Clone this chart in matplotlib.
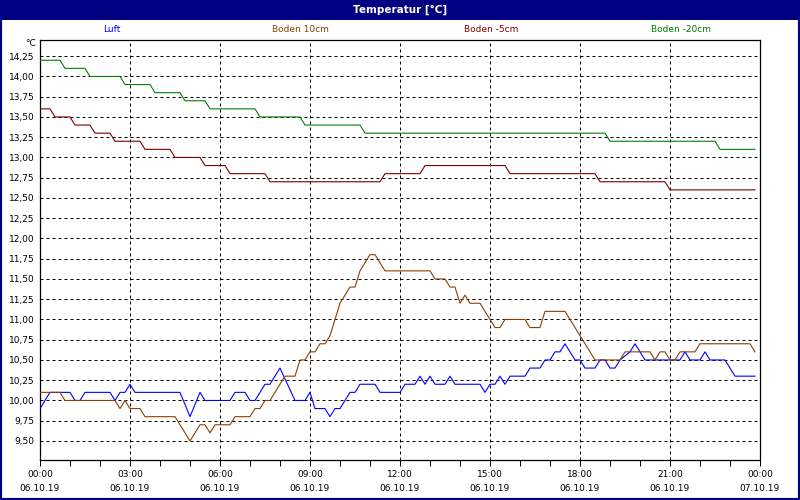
import matplotlib
matplotlib.use("Agg")
import matplotlib.pyplot as plt
from matplotlib.patches import Rectangle
from matplotlib.ticker import MultipleLocator, FixedLocator

# Messwerte als Stützpunkte (Minuten ab 06.10.19 00:00, Wert in °C)
luft_t = [0, 20, 60, 70, 80, 90, 140, 150, 160, 170, 180, 190, 280, 300, 320, 330,
          380, 390, 410, 420, 430, 450, 460, 480, 510, 530, 540, 550, 570, 580, 590,
          600, 620, 630, 640, 670, 680, 720, 730, 750, 760, 770, 780, 790, 810, 820,
          830, 880, 890, 900, 910, 920, 930, 940, 970, 980, 1000, 1010, 1020, 1030,
          1040, 1050, 1060, 1070, 1080, 1090, 1110, 1120, 1130, 1140, 1150, 1160,
          1180, 1190, 1200, 1210, 1280, 1290, 1300, 1320, 1330, 1340, 1370, 1390, 1430]
luft_v = [9.9, 10.1, 10.1, 10.0, 10.0, 10.1, 10.1, 10.0, 10.1, 10.1, 10.2, 10.1, 10.1,
          9.8, 10.1, 10.0, 10.0, 10.1, 10.1, 10.0, 10.0, 10.2, 10.2, 10.4, 10.0, 10.0,
          10.1, 9.9, 9.9, 9.8, 9.9, 9.9, 10.1, 10.1, 10.2, 10.2, 10.1, 10.1, 10.2, 10.2,
          10.3, 10.2, 10.3, 10.2, 10.2, 10.3, 10.2, 10.2, 10.1, 10.2, 10.2, 10.3, 10.2,
          10.3, 10.3, 10.4, 10.4, 10.5, 10.5, 10.6, 10.6, 10.7, 10.6, 10.5, 10.5, 10.4,
          10.4, 10.5, 10.5, 10.4, 10.4, 10.5, 10.6, 10.7, 10.6, 10.5, 10.5, 10.6, 10.5,
          10.5, 10.6, 10.5, 10.5, 10.3, 10.3]

boden10_t = [0, 40, 50, 150, 160, 170, 180, 200, 210, 270, 300, 320, 330, 340, 350,
             380, 390, 420, 430, 440, 450, 460, 490, 510, 520, 530, 540, 550, 560, 570,
             580, 590, 600, 610, 620, 630, 640, 650, 660, 670, 680, 690, 780, 790, 810,
             820, 830, 840, 850, 860, 880, 890, 900, 910, 920, 930, 970, 980, 1000,
             1010, 1050, 1110, 1160, 1170, 1220, 1230, 1240, 1250, 1260, 1270, 1280,
             1310, 1320, 1420, 1430]
boden10_v = [10.1, 10.1, 10.0, 10.0, 9.9, 10.0, 9.9, 9.9, 9.8, 9.8, 9.5, 9.7, 9.7, 9.6,
             9.7, 9.7, 9.8, 9.8, 9.9, 9.9, 10.0, 10.0, 10.3, 10.3, 10.5, 10.5, 10.6,
             10.6, 10.7, 10.7, 10.8, 11.0, 11.2, 11.3, 11.4, 11.4, 11.6, 11.7, 11.8,
             11.8, 11.7, 11.6, 11.6, 11.5, 11.5, 11.4, 11.4, 11.2, 11.3, 11.2, 11.2,
             11.1, 11.0, 10.9, 10.9, 11.0, 11.0, 10.9, 10.9, 11.1, 11.1, 10.5, 10.5,
             10.6, 10.6, 10.5, 10.6, 10.6, 10.5, 10.5, 10.6, 10.6, 10.7, 10.7, 10.6]

boden5_t = [0, 20, 30, 60, 70, 100, 110, 140, 150, 200, 210, 260, 270, 320, 330, 370,
            380, 450, 460, 680, 690, 760, 770, 930, 940, 1110, 1120, 1250, 1260, 1430]
boden5_v = [13.6, 13.6, 13.5, 13.5, 13.4, 13.4, 13.3, 13.3, 13.2, 13.2, 13.1, 13.1,
            13.0, 13.0, 12.9, 12.9, 12.8, 12.8, 12.7, 12.7, 12.8, 12.8, 12.9, 12.9,
            12.8, 12.8, 12.7, 12.7, 12.6, 12.6]

boden20_t = [0, 40, 50, 90, 100, 160, 170, 220, 230, 280, 290, 330, 340, 430, 440, 520,
             530, 640, 650, 1130, 1140, 1350, 1360, 1430]
boden20_v = [14.2, 14.2, 14.1, 14.1, 14.0, 14.0, 13.9, 13.9, 13.8, 13.8, 13.7, 13.7,
             13.6, 13.6, 13.5, 13.5, 13.4, 13.4, 13.3, 13.3, 13.2, 13.2, 13.1, 13.1]

namen = ["Luft", "Boden 10cm", "Boden -5cm", "Boden -20cm"]
farben = ["#0000ff", "#8b4000", "#800000", "#008000"]

x_ticks = [0, 180, 360, 540, 720, 900, 1080, 1260, 1440]
x_labels = ["00:00\n06.10.19", "03:00\n06.10.19", "06:00\n06.10.19", "09:00\n06.10.19",
            "12:00\n06.10.19", "15:00\n06.10.19", "18:00\n06.10.19", "21:00\n06.10.19",
            "00:00\n07.10.19"]

navy = "#000080"
fig = plt.figure(figsize=(8, 5), dpi=100)
fig.patch.set_facecolor("white")

# Titelleiste und Rahmen
fig.add_artist(Rectangle((0, 1 - 20 / 500), 1, 20 / 500, transform=fig.transFigure,
                         facecolor=navy, edgecolor="none"))
fig.add_artist(Rectangle((0, 0), 1, 1, transform=fig.transFigure, fill=False,
                         edgecolor=navy, linewidth=3))
fig.text(0.5, 1 - 10 / 500, "Temperatur [°C]", color="white", fontsize=7.5,
         fontweight="bold", ha="center", va="center")

# Legende als farbige Texte
for name, farbe, xp in zip(namen, farben, [112, 300, 491, 681]):
    fig.text(xp / 800, 1 - 30 / 500, name, color=farbe, fontsize=6.5,
             ha="center", va="center")
fig.text(36 / 800, 1 - 44 / 500, "°C", fontsize=6.5, ha="right", va="center")

ax = fig.add_axes([40 / 800, 40 / 500, 720 / 800, 420 / 500])
ax.set_xlim(0, 1440)
ax.set_ylim(9.265, 14.45)

for t, v, farbe in zip([luft_t, boden10_t, boden5_t, boden20_t],
                       [luft_v, boden10_v, boden5_v, boden20_v], farben):
    ax.plot(t, v, color=farbe, linewidth=0.8, antialiased=True, zorder=3)

ax.xaxis.set_major_locator(FixedLocator(x_ticks))
ax.xaxis.set_minor_locator(MultipleLocator(60))
ax.set_xticklabels(x_labels, fontsize=6.5, linespacing=1.75)
ax.yaxis.set_major_locator(FixedLocator([9.5 + 0.25 * i for i in range(20)]))
ax.set_yticklabels([f"{9.5 + 0.25 * i:.2f}".replace(".", ",") for i in range(20)],
                   fontsize=6.5)
ax.tick_params(axis="x", which="both", length=4, width=0.72, pad=3)
ax.tick_params(axis="y", length=0, pad=4)

ax.yaxis.grid(True, color="black", linewidth=0.72, linestyle=(0, (3, 3)))
ax.xaxis.grid(True, which="major", color="black", linewidth=0.72, linestyle=(0, (3, 3)))
for sp in ax.spines.values():
    sp.set_linewidth(0.9)

fig.savefig("out.png", dpi=100)
